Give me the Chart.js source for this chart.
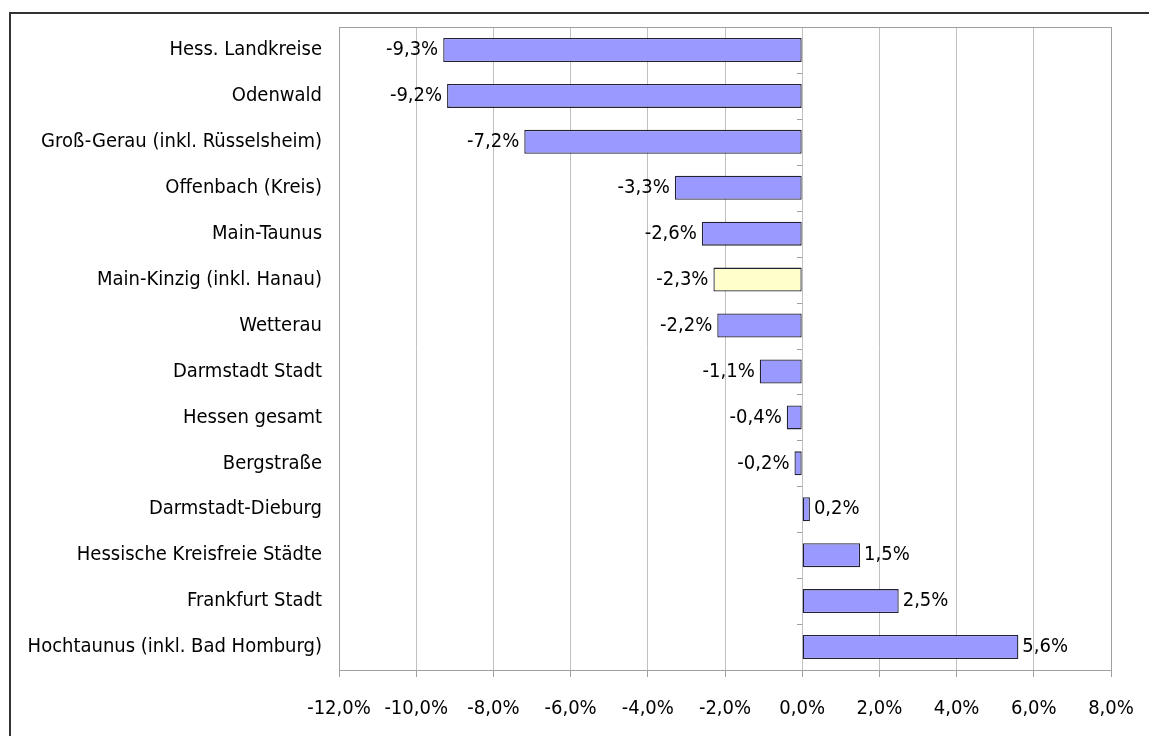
<!DOCTYPE html>
<html>
<head>
<meta charset="utf-8">
<script src="https://cdn.jsdelivr.net/npm/chart.js@4.4.1/dist/chart.umd.min.js"></script>
<style>
  html, body { margin: 0; padding: 0; background: #fff; overflow: hidden; }
  #frame { position: absolute; left: 9px; top: 12px; width: 1300px; height: 900px; border: 2px solid #333; box-sizing: border-box; }
  #wrap { position: absolute; left: 0; top: 0; width: 1149px; height: 736px; }
</style>
</head>
<body>
<div id="frame"></div>
<div id="wrap"><canvas id="chart" width="1149" height="736"></canvas></div>
<script>
const categories = [
  "Hess. Landkreise",
  "Odenwald",
  "Groß-Gerau (inkl. Rüsselsheim)",
  "Offenbach (Kreis)",
  "Main-Taunus",
  "Main-Kinzig (inkl. Hanau)",
  "Wetterau",
  "Darmstadt Stadt",
  "Hessen gesamt",
  "Bergstraße",
  "Darmstadt-Dieburg",
  "Hessische Kreisfreie Städte",
  "Frankfurt Stadt",
  "Hochtaunus (inkl. Bad Homburg)"
];
const changes = [-9.3, -9.2, -7.2, -3.3, -2.6, -2.3, -2.2, -1.1, -0.4, -0.2, 0.2, 1.5, 2.5, 5.6];
const highlighted = "Main-Kinzig (inkl. Hanau)";
const axisMin = -12, axisMax = 8, axisStep = 2;

const fontFamily = "'DejaVu Sans Condensed', 'Liberation Sans Narrow', sans-serif";
const fontSize = 20;
const fmt = (v, d) => v.toFixed(d).replace('.', ',') + '%';

const extras = {
  id: 'extras',
  afterDatasetsDraw(chart) {
    const { ctx, chartArea: a, scales } = chart;
    ctx.save();
    // plot frame
    ctx.strokeStyle = '#a0a0a0';
    ctx.lineWidth = 1;
    ctx.strokeRect(a.left + 0.5, a.top + 0.5, a.right - a.left, a.bottom - a.top);
    // category ticks on the zero axis
    const x0 = Math.round(scales.x.getPixelForValue(0));
    const step = (a.bottom - a.top) / categories.length;
    ctx.beginPath();
    for (let i = 1; i < categories.length; i++) {
      const y = Math.round(a.top + i * step) + 0.5;
      ctx.moveTo(x0 - 5, y);
      ctx.lineTo(x0, y);
    }
    ctx.stroke();
    // value labels
    ctx.fillStyle = '#000';
    ctx.font = fontSize + 'px ' + fontFamily;
    ctx.textBaseline = 'middle';
    chart.getDatasetMeta(0).data.forEach((bar, i) => {
      const v = changes[i];
      if (v < 0) {
        ctx.textAlign = 'right';
        ctx.fillText(fmt(v, 1), bar.x - 5, bar.y);
      } else {
        ctx.textAlign = 'left';
        ctx.fillText(fmt(v, 1), bar.x + 4, bar.y);
      }
    });
    ctx.restore();
  }
};

new Chart(document.getElementById('chart'), {
  type: 'bar',
  data: {
    labels: categories,
    datasets: [{
      data: changes,
      backgroundColor: categories.map(c => c === highlighted ? '#ffffcc' : '#9999ff'),
      borderColor: '#222233',
      borderWidth: 1.3,
      borderSkipped: false,
      barPercentage: 0.6,
      categoryPercentage: 0.87
    }]
  },
  options: {
    indexAxis: 'y',
    responsive: false,
    animation: false,
    layout: { padding: { left: 10, top: 27, right: 38, bottom: 0 } },
    plugins: { legend: { display: false }, tooltip: { enabled: false } },
    scales: {
      x: {
        min: axisMin, max: axisMax,
        afterFit: s => { s.height = 66; s.paddingLeft = 0; s.paddingRight = 0; },
        ticks: {
          stepSize: axisStep,
          color: '#000',
          font: { family: fontFamily, size: fontSize },
          padding: 20,
          callback: v => fmt(v, 1)
        },
        grid: { color: '#c0c0c0', tickLength: 7, tickColor: '#a0a0a0' },
        border: { color: '#a0a0a0' }
      },
      y: {
        afterFit: s => { s.width = 329; s.paddingTop = 0; s.paddingBottom = 0; },
        ticks: {
          color: '#000',
          font: { family: fontFamily, size: fontSize },
          padding: 17
        },
        grid: { display: false, drawTicks: false },
        border: { color: '#a0a0a0' }
      }
    }
  },
  plugins: [extras]
});
</script>
</body>
</html>
